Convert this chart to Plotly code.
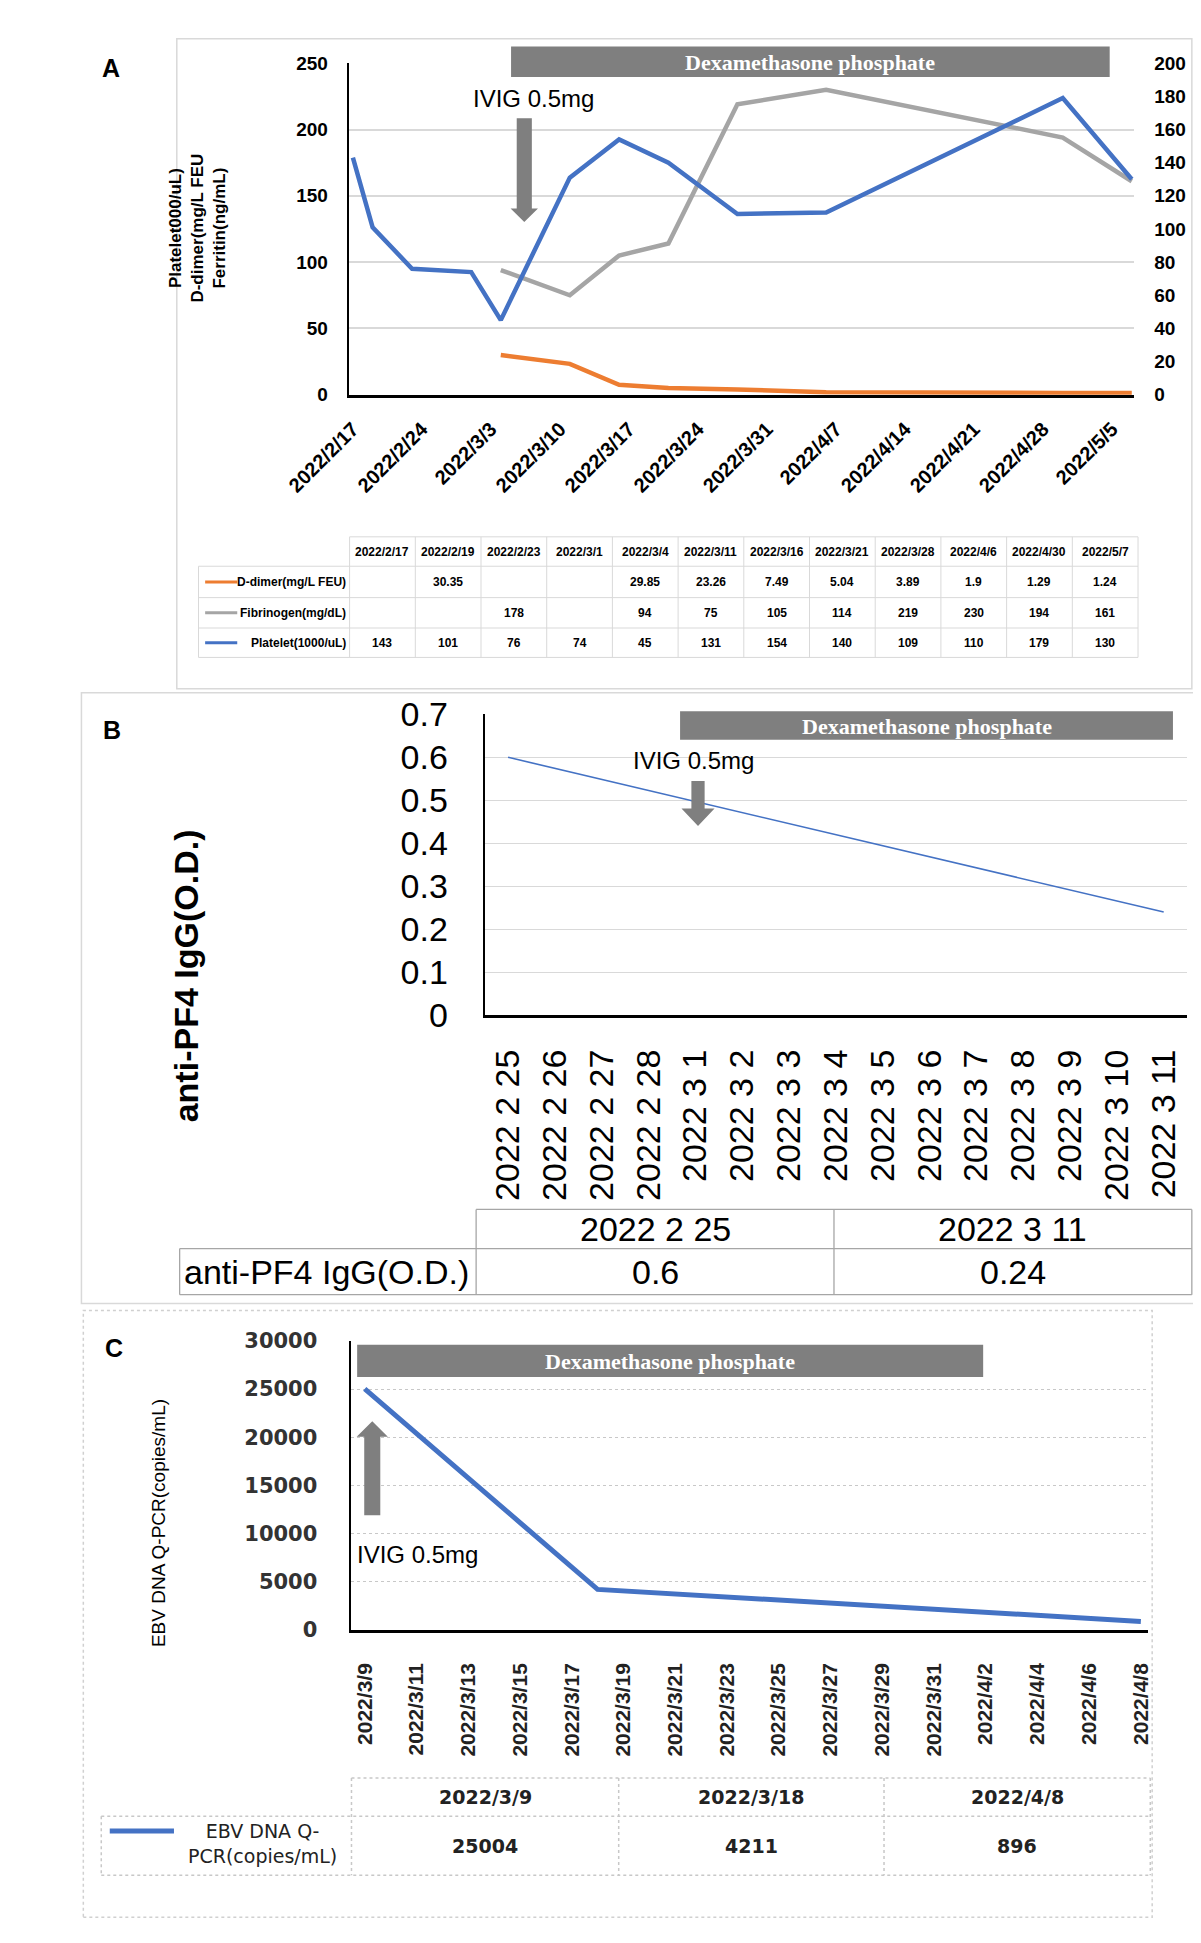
import plotly.graph_objects as go

# ---------------- data ----------------
# panel A
dates_a = ["2022-02-17", "2022-02-19", "2022-02-23", "2022-03-01", "2022-03-04", "2022-03-11",
           "2022-03-16", "2022-03-21", "2022-03-28", "2022-04-06", "2022-04-30", "2022-05-07"]
labels_a = ["2022/2/17", "2022/2/19", "2022/2/23", "2022/3/1", "2022/3/4", "2022/3/11",
            "2022/3/16", "2022/3/21", "2022/3/28", "2022/4/6", "2022/4/30", "2022/5/7"]
d_dimer = [None, 30.35, None, None, 29.85, 23.26, 7.49, 5.04, 3.89, 1.9, 1.29, 1.24]
fibrinogen = [None, None, 178, None, 94, 75, 105, 114, 219, 230, 194, 161]
platelet = [143, 101, 76, 74, 45, 131, 154, 140, 109, 110, 179, 130]

# panel B
pf4_dates = ["2022 2 25", "2022 2 26", "2022 2 27", "2022 2 28", "2022 3 1", "2022 3 2",
             "2022 3 3", "2022 3 4", "2022 3 5", "2022 3 6", "2022 3 7", "2022 3 8",
             "2022 3 9", "2022 3 10", "2022 3 11"]
pf4_values = [0.6, None, None, None, None, None, None, None, None, None, None, None, None, None, 0.24]
pf4_table_dates = ["2022 2 25", "2022 3 11"]
pf4_table_values = [0.6, 0.24]

# panel C
ebv_dates = ["2022-03-09", "2022-03-18", "2022-04-08"]
ebv_labels = ["2022/3/9", "2022/3/18", "2022/4/8"]
ebv_values = [25004, 4211, 896]

ORANGE = "#ED7D31"
GRAY = "#A5A5A5"
BLUE = "#4472C4"
BAR = "#7F7F7F"

NARROW = "Liberation Sans Narrow, Arial Narrow, Liberation Sans, sans-serif"
ARIAL = "Liberation Sans, Arial, sans-serif"
SERIF = "Liberation Serif, Times New Roman, serif"
DEJA = "DejaVu Sans, sans-serif"

W, H = 1201, 1943


def X(p):
    return p / W


def Y(p):
    return 1 - p / H


shapes = []
annotations = []


def hline(y, x0, x1, color="#d9d9d9", width=1, dash="solid"):
    shapes.append(dict(type="line", xref="paper", yref="paper", x0=X(x0), x1=X(x1), y0=Y(y), y1=Y(y),
                       line=dict(color=color, width=width, dash=dash)))


def vline(x, y0, y1, color="#d9d9d9", width=1, dash="solid"):
    shapes.append(dict(type="line", xref="paper", yref="paper", x0=X(x), x1=X(x), y0=Y(y0), y1=Y(y1),
                       line=dict(color=color, width=width, dash=dash)))


def box(x0, y0, x1, y1, line=None, fill=None):
    shapes.append(dict(type="rect", xref="paper", yref="paper", x0=X(x0), x1=X(x1), y0=Y(y1), y1=Y(y0),
                       line=line or dict(width=0), fillcolor=fill or "rgba(0,0,0,0)"))


def text(x, y, s, size, family=ARIAL, color="black", weight="normal", xanchor="center", angle=0, align="center"):
    annotations.append(dict(xref="paper", yref="paper", x=X(x), y=Y(y), text=s, showarrow=False,
                            xanchor=xanchor, yanchor="middle", textangle=angle, align=align,
                            font=dict(size=size, family=family, color=color, weight=weight)))


def arrow(cx, y_base, y_tip, shaft_w, head_w, head_len):
    # block arrow; points down if tip is below base
    d = 1 if y_tip > y_base else -1
    y_neck = y_tip - d * head_len
    pts = [(cx - shaft_w / 2, y_base), (cx + shaft_w / 2, y_base), (cx + shaft_w / 2, y_neck),
           (cx + head_w / 2, y_neck), (cx, y_tip), (cx - head_w / 2, y_neck), (cx - shaft_w / 2, y_neck)]
    path = "M " + " L ".join(f"{X(a):.5f},{Y(b):.5f}" for a, b in pts) + " Z"
    shapes.append(dict(type="path", xref="paper", yref="paper", path=path, fillcolor=BAR, line=dict(width=0)))


def dex_bar(x0, y0, x1, y1):
    box(x0, y0, x1, y1, fill=BAR)
    text((x0 + x1) / 2, (y0 + y1) / 2 + 1, "Dexamethasone phosphate", 22, SERIF, "white", "bold")


# ---------------- traces ----------------
fig = go.Figure()
fig.add_trace(go.Scatter(x=dates_a, y=d_dimer, mode="lines", line=dict(color=ORANGE, width=4.5),
                         xaxis="x", yaxis="y", connectgaps=False))
fig.add_trace(go.Scatter(x=dates_a, y=fibrinogen, mode="lines", line=dict(color=GRAY, width=4.5),
                         xaxis="x", yaxis="y", connectgaps=False))
fig.add_trace(go.Scatter(x=dates_a, y=platelet, mode="lines", line=dict(color=BLUE, width=4.5),
                         xaxis="x", yaxis="y2"))
fig.add_trace(go.Scatter(x=pf4_dates, y=pf4_values, mode="lines", line=dict(color=BLUE, width=1.6),
                         xaxis="x2", yaxis="y3", connectgaps=True))
fig.add_trace(go.Scatter(x=ebv_dates, y=ebv_values, mode="lines", line=dict(color=BLUE, width=5),
                         xaxis="x3", yaxis="y4"))

# ---------------- panel A decorations ----------------
box(111, 12, 1186, 675, line=dict(color="#d9d9d9", width=1.5))
text(41, 42, "A", 25, ARIAL, weight="bold")
text(133, 205, "Platelet000/uL)<br>D-dimer(mg/L FEU<br>Ferritin(ng/mL)", 17, NARROW, weight="bold", angle=-90)
dex_bar(465, 20, 1099, 51)
text(489, 73, "IVIG 0.5mg", 24, ARIAL)
arrow(479, 93, 199, 16, 29, 14)

# table A
ta_x0, ta_l, ta_x1 = 294, 134, 1129
ta_rows = [520, 550, 582, 613, 643]
col_w = (ta_x1 - ta_x0) / len(labels_a)
hline(ta_rows[0], ta_x0, ta_x1)
for yy in ta_rows[1:]:
    hline(yy, ta_l, ta_x1)
for i in range(len(labels_a) + 1):
    vline(ta_x0 + i * col_w, ta_rows[0], ta_rows[-1])
vline(ta_l, ta_rows[1], ta_rows[-1])
for i, lab in enumerate(labels_a):
    text(ta_x0 + (i + 0.5) * col_w, (ta_rows[0] + ta_rows[1]) / 2, lab, 12, NARROW, weight="bold")
series_a = [("D-dimer(mg/L FEU)", d_dimer, ORANGE),
            ("Fibrinogen(mg/dL)", fibrinogen, GRAY),
            ("Platelet(1000/uL)", platelet, BLUE)]
for r, (name, vals, col) in enumerate(series_a):
    yc = (ta_rows[r + 1] + ta_rows[r + 2]) / 2
    hline(yc, 141, 175, color=col, width=3)
    text(292, yc, name, 12, NARROW, weight="bold", xanchor="right")
    for i, v in enumerate(vals):
        if v is not None:
            text(ta_x0 + (i + 0.5) * col_w, yc, f"{v:g}", 12, NARROW, weight="bold")

# ---------------- panel B decorations ----------------
box(10, 679, 1191, 1302, line=dict(color="#d9d9d9", width=1.5))
text(42, 717, "B", 25, ARIAL, weight="bold")
text(121, 968, "anti-PF4 IgG(O.D.)", 34, ARIAL, weight="bold", angle=-90)
dex_bar(644, 698, 1166, 727)
text(658, 748, "IVIG 0.5mg", 24, ARIAL)
arrow(663, 769, 815, 14, 35, 18)

# table B
tb_l, tb_x = 114, [428, 807, 1186]
tb_rows = [1206, 1246, 1293]
TBC = "#a6a6a6"
hline(tb_rows[0], tb_x[0], tb_x[-1], TBC, 1.3)
for yy in tb_rows[1:]:
    hline(yy, tb_l, tb_x[-1], TBC, 1.3)
for xx in tb_x:
    vline(xx, tb_rows[0], tb_rows[-1], TBC, 1.3)
vline(tb_l, tb_rows[1], tb_rows[-1], TBC, 1.3)
for i, (lab, v) in enumerate(zip(pf4_table_dates, pf4_table_values)):
    xc = (tb_x[i] + tb_x[i + 1]) / 2
    text(xc, (tb_rows[0] + tb_rows[1]) / 2, lab, 34, ARIAL)
    text(xc, (tb_rows[1] + tb_rows[2]) / 2, f"{v:g}", 34, ARIAL)
text(116, (tb_rows[1] + tb_rows[2]) / 2, "anti-PF4 IgG(O.D.)", 34, ARIAL, xanchor="left")

# ---------------- panel C decorations ----------------
box(12, 1309, 1144, 1928, line=dict(color="#d0d0d0", width=1.5, dash="dot"))
text(44, 1347, "C", 25, ARIAL, weight="bold")
text(91, 1526, "EBV DNA Q-PCR(copies/mL)", 19, NARROW, angle=-90)
dex_bar(302, 1344, 965, 1377)
text(366, 1558, "IVIG 0.5mg", 24, ARIAL)
arrow(318, 1518, 1422, 17, 33, 16)

# table C
tc_l, tc_x = 31, [296, 579, 860, 1142]
tc_rows = [1786, 1825, 1885]
TCC = "#c8c8c8"
hline(tc_rows[0], tc_x[0], tc_x[-1], TCC, 1.5, "dot")
for yy in tc_rows[1:]:
    hline(yy, tc_l, tc_x[-1], TCC, 1.5, "dot")
for xx in tc_x:
    vline(xx, tc_rows[0], tc_rows[-1], TCC, 1.5, "dot")
vline(tc_l, tc_rows[1], tc_rows[-1], TCC, 1.5, "dot")
for i, (lab, v) in enumerate(zip(ebv_labels, ebv_values)):
    xc = (tc_x[i] + tc_x[i + 1]) / 2
    text(xc, (tc_rows[0] + tc_rows[1]) / 2, lab, 19, DEJA, "#222", "bold")
    text(xc, (tc_rows[1] + tc_rows[2]) / 2, f"{v}", 19, DEJA, "#222", "bold")
hline(1840, 40, 108, BLUE, 5)
text(202, 1853, "EBV DNA Q-<br>PCR(copies/mL)", 19, DEJA, "#222")

# ---------------- axes ----------------
tick_a = dict(size=19, family=NARROW, color="black", weight="bold")
fig.update_layout(
    width=W, height=H, margin=dict(l=0, r=0, t=0, b=0),
    paper_bgcolor="white", plot_bgcolor="white", showlegend=False,
    shapes=shapes, annotations=annotations,
    xaxis=dict(domain=[X(293), X(1125)], anchor="y", type="date",
               range=["2022-02-16 13:40", "2022-05-07 06:00"],
               tick0="2022-02-17", dtick=7 * 86400000, tickformat="%Y/%-m/%-d", tickangle=-45,
               showgrid=False, showline=True, linecolor="black", linewidth=3, ticks="",
               layer="below traces", tickfont=dict(size=20, family=NARROW, color="black", weight="bold"),
               ticklabelstandoff=12),
    yaxis=dict(domain=[Y(375), Y(37)], anchor="x", range=[0, 250], dtick=50,
               showgrid=True, gridcolor="#d9d9d9", gridwidth=1.5, zeroline=False,
               showline=True, linecolor="black", linewidth=2, ticks="",
               tickfont=tick_a, ticklabelstandoff=15),
    yaxis2=dict(overlaying="y", anchor="x", side="right", range=[0, 200], dtick=20,
                showgrid=False, zeroline=False, showline=False, ticks="",
                tickfont=tick_a, ticklabelstandoff=19),
    xaxis2=dict(domain=[X(437), X(1181)], anchor="y3", type="category", range=[-0.5, 14.5],
                tickangle=-90, showgrid=False, showline=True, linecolor="black", linewidth=2.5,
                ticks="", tickfont=dict(size=34, family=ARIAL, color="black"), ticklabelstandoff=18),
    yaxis3=dict(domain=[Y(1008), Y(701)], anchor="x2", range=[0, 0.7], dtick=0.1,
                showgrid=True, gridcolor="#d9d9d9", gridwidth=1.3, zeroline=False,
                showline=True, linecolor="black", linewidth=2, ticks="",
                tickfont=dict(size=34, family=ARIAL, color="black"), ticklabelstandoff=28),
    xaxis3=dict(domain=[X(295), X(1140)], anchor="y4", type="date",
                range=["2022-03-08 10:50", "2022-04-08 07:00"],
                tick0="2022-03-09", dtick=2 * 86400000, tickformat="%Y/%-m/%-d", tickangle=-90,
                showgrid=False, showline=True, linecolor="black", linewidth=2.5, ticks="",
                tickfont=dict(size=21, family=NARROW, color="#222", weight="bold"), ticklabelstandoff=22),
    yaxis4=dict(domain=[Y(1635), Y(1340)], anchor="x3", range=[0, 30000], dtick=5000, tickformat="d",
                showgrid=True, gridcolor="#c8c8c8", gridwidth=1.2, griddash="dot", zeroline=False,
                showline=True, linecolor="black", linewidth=2, ticks="",
                tickfont=dict(size=21, family=DEJA, color="#333", weight="bold"), ticklabelstandoff=27),
)

fig.write_html("out.html")
